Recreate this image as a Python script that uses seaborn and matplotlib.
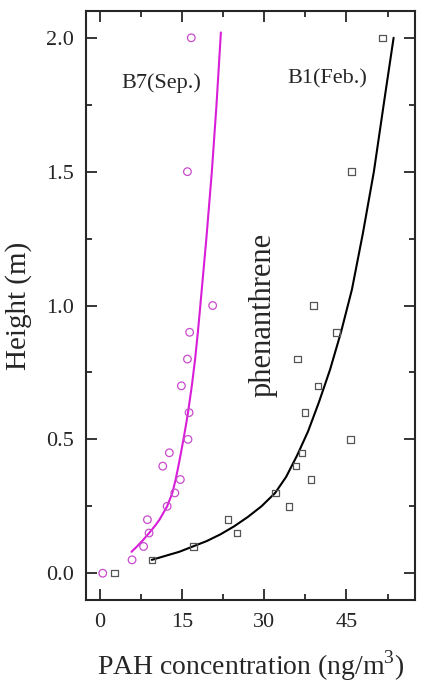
import matplotlib
matplotlib.use("Agg")
import matplotlib.pyplot as plt
import seaborn as sns
import pandas as pd

# B7 (Sep.) samples - magenta circles
b7_conc = [0.55, 5.9, 8.0, 8.7, 9.0, 12.3, 13.7, 14.7, 11.5, 12.7, 16.1, 16.3, 14.9, 16.0, 16.4, 20.6, 16.0, 16.7]
b7_height = [0.0, 0.05, 0.1, 0.2, 0.15, 0.25, 0.3, 0.35, 0.4, 0.45, 0.5, 0.6, 0.7, 0.8, 0.9, 1.0, 1.5, 2.0]

# B1 (Feb.) samples - grey squares
b1_conc = [2.7, 9.5, 17.1, 23.4, 25.0, 32.1, 34.5, 35.8, 36.9, 38.5, 45.7, 37.4, 39.8, 36.1, 43.2, 39.0, 45.9, 51.6]
b1_height = [0.0, 0.05, 0.1, 0.2, 0.15, 0.3, 0.25, 0.4, 0.45, 0.35, 0.5, 0.6, 0.7, 0.8, 0.9, 1.0, 1.5, 2.0]

# fitted curves, points
b7_fit_x = [5.8, 6.8, 7.95, 9.0, 10.0, 10.9, 12.3, 13.25, 13.85, 14.35, 14.82, 15.27, 15.7, 16.1,
            16.8, 17.4, 17.9, 18.35, 19.45, 20.45, 21.3, 22.1]
b7_fit_y = [0.08, 0.10, 0.125, 0.15, 0.175, 0.20, 0.25, 0.30, 0.35, 0.40, 0.45, 0.50, 0.55, 0.60,
            0.70, 0.80, 0.90, 1.0, 1.25, 1.5, 1.75, 2.02]
b1_fit_x = [9.5, 12, 14.5, 17, 19.5, 22, 24.5, 27, 29.5, 32, 34, 36, 38, 40, 42, 44, 46, 48, 50, 52, 53.6]
b1_fit_y = [0.05, 0.065, 0.08, 0.10, 0.12, 0.145, 0.175, 0.21, 0.25, 0.30, 0.36, 0.44, 0.53, 0.64,
            0.76, 0.90, 1.06, 1.27, 1.50, 1.78, 2.0]

x_ticks = [0, 15, 30, 45]
y_ticks = [0.0, 0.5, 1.0, 1.5, 2.0]

sns.set_style("ticks")
plt.rcParams["font.family"] = ["Liberation Serif", "DejaVu Serif"]
plt.rcParams["mathtext.fontset"] = "custom"
plt.rcParams["mathtext.rm"] = "Liberation Serif"

magenta_pt = "#c84ccc"
magenta_ln = "#d81ed8"
grey_pt = "#555555"

b7 = pd.DataFrame({"conc": b7_conc, "height": b7_height})
b1 = pd.DataFrame({"conc": b1_conc, "height": b1_height})
b7_fit = pd.DataFrame({"conc": b7_fit_x, "height": b7_fit_y})
b1_fit = pd.DataFrame({"conc": b1_fit_x, "height": b1_fit_y})

fig = plt.figure(figsize=(4.22, 6.98), dpi=100)
ax = fig.add_axes([0.2038, 0.1404, 0.7796, 0.8438])

sns.lineplot(data=b7_fit, x="conc", y="height", sort=False, color=magenta_ln, linewidth=1.5, ax=ax)
sns.lineplot(data=b1_fit, x="conc", y="height", sort=False, color="black", linewidth=1.5, ax=ax)
sns.scatterplot(data=b7, x="conc", y="height", marker="o", s=30, facecolor="none",
                edgecolor=magenta_pt, linewidth=0.9, ax=ax, zorder=3)
sns.scatterplot(data=b1, x="conc", y="height", marker="s", s=22, facecolor="none",
                edgecolor=grey_pt, linewidth=0.9, ax=ax, zorder=3)

ax.set_xlim(-2.5, 57.5)
ax.set_ylim(-0.1, 2.1)
ax.set_xticks(x_ticks)
ax.set_yticks(y_ticks)
ax.set_xticks([7.5, 22.5, 37.5, 52.5], minor=True)
ax.set_yticks([0.25, 0.75, 1.25, 1.75], minor=True)
ax.set_yticklabels([f"{v:.1f}" for v in y_ticks])
ax.tick_params(which="both", direction="in", top=True, right=True, width=1.3, labelsize=16, pad=9)
ax.tick_params(which="major", length=8)
ax.tick_params(which="minor", length=4)
for sp in ax.spines.values():
    sp.set_linewidth(1.5)

ax.set_xlabel("PAH concentration (ng/m$^{3}$)", fontsize=20, labelpad=12)
ax.set_ylabel("Height (m)", fontsize=21, labelpad=10)

ax.text(11.3, 1.83, "B7(Sep.)", fontsize=16, ha="center", va="center")
ax.text(41.5, 1.846, "B1(Feb.)", fontsize=16, ha="center", va="center")
ax.text(29.8, 0.965, "phenanthrene", fontsize=22, rotation=90, ha="center", va="center")

fig.savefig("out.png", dpi=100)
